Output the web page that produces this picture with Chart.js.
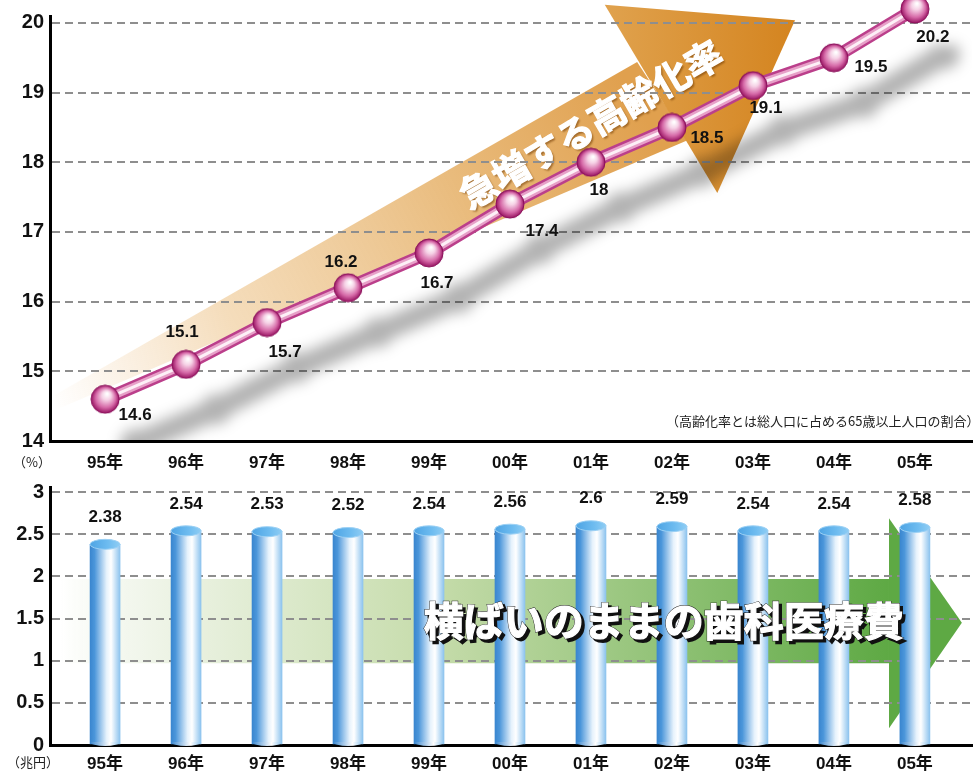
<!DOCTYPE html>
<html lang="ja">
<head>
<meta charset="utf-8">
<title>高齢化率と歯科医療費の推移</title>
<script src="https://cdn.jsdelivr.net/npm/chart.js@4.4.1/dist/chart.umd.min.js"></script>
<style>
  html, body { margin: 0; padding: 0; background: #fff; }
  #wrap { position: relative; width: 973px; height: 771px; overflow: hidden; }
  .box { position: absolute; left: 0; width: 973px; }
  #top-box { top: 0; height: 475px; }
  #bottom-box { top: 475px; height: 296px; }
</style>
</head>
<body>
<div id="wrap">
  <div class="box" id="top-box"><canvas id="aging" width="973" height="475"></canvas></div>
  <div class="box" id="bottom-box"><canvas id="dental" width="973" height="296"></canvas></div>
</div>
<script>
// years shown on both x axes
const years = ["95年", "96年", "97年", "98年", "99年", "00年", "01年", "02年", "03年", "04年", "05年"];
// 高齢化率 (%)
const agingRate = [14.6, 15.1, 15.7, 16.2, 16.7, 17.4, 18, 18.5, 19.1, 19.5, 20.2];
// 歯科医療費 (兆円)
const dentalCost = [2.38, 2.54, 2.53, 2.52, 2.54, 2.56, 2.6, 2.59, 2.54, 2.54, 2.58];
const rateTicks = [14, 15, 16, 17, 18, 19, 20];
const costTicks = [0, 0.5, 1, 1.5, 2, 2.5, 3];

// where each rate label sits relative to its point (dx, dy)
const rateLabelOffset = [[30, 16], [-4, -32], [18, 30], [-7, -25], [8, 30], [32, 27], [8, 28], [35, 11], [13, 23], [37, 10], [18, 28]];

const latin = "'Liberation Sans', 'Noto Sans CJK JP', sans-serif";
const cjk = "'Noto Sans CJK JP', sans-serif";
const gridColor = "#8e8e8e";
const barWidth = 30;

// shared horizontal scale: one unit per year, axis starts a bit left of 95年
const xMin = -0.68;
const xMax = 10.705;

function makeSphere(r) {
  const c = document.createElement("canvas");
  c.width = c.height = r * 2 + 2;
  const g = c.getContext("2d");
  const cx = r + 1, cy = r + 1;
  const grad = g.createRadialGradient(cx + r * 0.15, cy - r * 0.4, r * 0.05, cx, cy, r);
  grad.addColorStop(0, "#ffffff");
  grad.addColorStop(0.3, "#f6d2e6");
  grad.addColorStop(0.7, "#d66aa8");
  grad.addColorStop(1, "#981462");
  g.fillStyle = grad;
  g.beginPath();
  g.arc(cx, cy, r, 0, Math.PI * 2);
  g.fill();
  g.strokeStyle = "#8a0f5a";
  g.lineWidth = 1;
  g.stroke();
  return c;
}
const sphere = makeSphere(14);

function pt(chart, i, v) {
  return [chart.scales.x.getPixelForValue(i), chart.scales.y.getPixelForValue(v)];
}

function poly(ctx, pts) {
  ctx.beginPath();
  pts.forEach((p, k) => k ? ctx.lineTo(p[0], p[1]) : ctx.moveTo(p[0], p[1]));
  ctx.closePath();
}

// keep the plot area exactly where the layout puts it
function noEdgePadding(s) {
  s.paddingLeft = 0;
  s.paddingRight = 0;
  s.paddingTop = 0;
  s.paddingBottom = 0;
}

// big orange arrow behind the line, in axis units
const orangeHead = [[6.17, 20.26], [8.52, 20.04], [7.56, 17.56]];
const orangeShaft = [[6.57, 19.44], [7.2, 18.32], [-0.62, 14.44], [-0.62, 14.66]];

const orangeArrow = {
  id: "orangeArrow",
  beforeDraw(chart) {
    const ctx = chart.ctx;
    ctx.save();
    const shaft = orangeShaft.map(p => pt(chart, p[0], p[1]));
    const g1 = ctx.createLinearGradient(shaft[2][0], shaft[2][1], shaft[0][0], shaft[0][1] + 40);
    g1.addColorStop(0, "rgba(244,214,176,0)");
    g1.addColorStop(0.3, "rgba(242,212,170,0.8)");
    g1.addColorStop(0.7, "#e9bb7c");
    g1.addColorStop(1, "#e0a04e");
    ctx.fillStyle = g1;
    poly(ctx, shaft);
    ctx.fill();

    const head = orangeHead.map(p => pt(chart, p[0], p[1]));
    const g2 = ctx.createLinearGradient(head[0][0], 0, head[1][0], 0);
    g2.addColorStop(0, "#e0a24e");
    g2.addColorStop(1, "#d4841f");
    ctx.fillStyle = g2;
    poly(ctx, head);
    ctx.fill();

    // slanted caption
    const c = pt(chart, 6.0, 18.55);
    ctx.translate(c[0], c[1]);
    ctx.rotate(-30 * Math.PI / 180);
    ctx.font = "bold 37px " + cjk;
    ctx.textAlign = "center";
    ctx.textBaseline = "middle";
    ctx.shadowColor = "rgba(110,55,0,0.55)";
    ctx.shadowOffsetX = 2;
    ctx.shadowOffsetY = 2;
    ctx.shadowBlur = 2;
    ctx.fillStyle = "#ffffff";
    ctx.fillText("急増する高齢化率", 0, 0);
    ctx.shadowColor = "rgba(0,0,0,0)";
    ctx.strokeStyle = "#ffffff";
    ctx.lineWidth = 1.2;
    ctx.strokeText("急増する高齢化率", 0, 0);
    ctx.restore();
  }
};

// soft grey shadow cast by the tube and its beads
const lineShadow = {
  id: "lineShadow",
  beforeDatasetsDraw(chart) {
    const ctx = chart.ctx;
    const a = chart.chartArea;
    const pts = chart.getDatasetMeta(0).data;
    const off = document.createElement("canvas");
    off.width = chart.width;
    off.height = chart.height;
    const o = off.getContext("2d");
    o.strokeStyle = o.fillStyle = "#000";
    o.lineWidth = 22;
    o.lineJoin = "round";
    o.lineCap = "round";
    o.beginPath();
    pts.forEach((p, k) => k ? o.lineTo(p.x, p.y) : o.moveTo(p.x, p.y));
    o.stroke();
    pts.forEach(p => {
      o.beginPath();
      o.arc(p.x, p.y, 15, 0, Math.PI * 2);
      o.fill();
    });
    ctx.save();
    ctx.beginPath();
    ctx.rect(a.left, 0, a.right - a.left, a.bottom);
    ctx.clip();
    ctx.filter = "blur(7px)";
    ctx.globalAlpha = 0.3;
    ctx.drawImage(off, 30, 45);
    ctx.restore();
  }
};

const rateLabels = {
  id: "rateLabels",
  afterDatasetsDraw(chart) {
    const ctx = chart.ctx;
    const meta = chart.getDatasetMeta(0);
    ctx.save();
    ctx.font = "bold 17px " + latin;
    ctx.fillStyle = "#111";
    ctx.textAlign = "center";
    ctx.textBaseline = "middle";
    meta.data.forEach((p, i) => {
      const o = rateLabelOffset[i];
      ctx.fillText(String(agingRate[i]), p.x + o[0], p.y + o[1]);
    });
    ctx.font = "13px " + cjk;
    ctx.fillStyle = "#222";
    ctx.textAlign = "left";
    ctx.fillText("（高齢化率とは総人口に占める65歳以上人口の割合）", 666, chart.chartArea.bottom - 20);
    ctx.textAlign = "center";
    ctx.fillText("（%）", 32, chart.chartArea.bottom + 21);
    ctx.restore();
  }
};

const tubeData = agingRate.map((v, i) => ({ x: i, y: v }));
const lineClip = { left: 0, top: false, right: false, bottom: 0 };

new Chart(document.getElementById("aging"), {
  type: "line",
  data: {
    datasets: [
      { data: tubeData, showLine: false, pointStyle: sphere, pointRadius: 14, clip: lineClip },
      { data: tubeData, borderColor: "#fdf0f7", borderWidth: 3, pointRadius: 0, clip: lineClip },
      { data: tubeData, borderColor: "#e7a0c8", borderWidth: 8, pointRadius: 0, clip: lineClip },
      { data: tubeData, borderColor: "#bb3f8b", borderWidth: 13, pointRadius: 0, clip: lineClip }
    ]
  },
  options: {
    responsive: false,
    animation: false,
    layout: { autoPadding: false, padding: { top: 16, right: 1, left: 0, bottom: 0 } },
    plugins: { legend: { display: false }, tooltip: { enabled: false } },
    elements: { line: { tension: 0, fill: false, borderCapStyle: "round", borderJoinStyle: "round" } },
    scales: {
      x: {
        type: "linear",
        min: xMin,
        max: xMax,
        offset: false,
        afterBuildTicks: s => { s.ticks = years.map((_, i) => ({ value: i })); },
        afterFit: s => { s.height = 34; noEdgePadding(s); },
        grid: { display: false },
        border: { color: "#000", width: 3 },
        ticks: {
          autoSkip: false,
          maxRotation: 0,
          padding: 4,
          color: "#111",
          font: { size: 17, weight: "bold", family: latin },
          callback: v => years[v]
        }
      },
      y: {
        min: 14,
        max: 20.1,
        afterBuildTicks: s => { s.ticks = rateTicks.map(v => ({ value: v })); },
        afterFit: s => { s.width = 50; noEdgePadding(s); },
        grid: {
          color: c => c.tick && c.tick.value === 14 ? "rgba(0,0,0,0)" : gridColor,
          lineWidth: 2,
          drawTicks: false
        },
        border: { color: "#000", width: 3, dash: [8, 5] },
        ticks: {
          padding: 6,
          color: "#111",
          font: { size: 20, weight: "bold", family: latin },
          callback: v => String(v)
        }
      }
    }
  },
  plugins: [orangeArrow, lineShadow, rateLabels]
});

// green arrow behind the bars, in axis units
const greenShaft = [[-0.55, 1.97], [9.68, 1.97], [9.68, 0.97], [-0.55, 0.97]];
const greenHead = [[9.68, 2.69], [10.58, 1.45], [9.68, 0.2]];

const greenArrow = {
  id: "greenArrow",
  beforeDraw(chart) {
    const ctx = chart.ctx;
    ctx.save();
    const shaft = greenShaft.map(p => pt(chart, p[0], p[1]));
    const g = ctx.createLinearGradient(shaft[0][0], 0, shaft[1][0], 0);
    g.addColorStop(0, "rgba(240,246,232,0)");
    g.addColorStop(0.08, "#f3f7ee");
    g.addColorStop(0.45, "#c6dcab");
    g.addColorStop(1, "#5ea944");
    ctx.fillStyle = g;
    poly(ctx, shaft);
    ctx.fill();
    ctx.fillStyle = "#5ea944";
    poly(ctx, greenHead.map(p => pt(chart, p[0], p[1])));
    ctx.fill();
    ctx.restore();
  }
};

const cylinderTops = {
  id: "cylinderTops",
  afterDatasetsDraw(chart) {
    const ctx = chart.ctx;
    const meta = chart.getDatasetMeta(0);
    ctx.save();
    meta.data.forEach((bar, i) => {
      const { x, y, base } = bar.getProps(["x", "y", "base"], true);
      const rx = barWidth / 2;
      // rounded foot
      const gf = ctx.createLinearGradient(x - rx, 0, x + rx, 0);
      gf.addColorStop(0, "#3b88d0");
      gf.addColorStop(0.65, "#ffffff");
      gf.addColorStop(1, "#8dc4ee");
      ctx.fillStyle = gf;
      ctx.beginPath();
      ctx.ellipse(x, base - 2, rx, 4, 0, 0, Math.PI);
      ctx.fill();
      // lid
      const gt = ctx.createLinearGradient(x - rx, 0, x + rx, 0);
      gt.addColorStop(0, "#4ea4e4");
      gt.addColorStop(0.6, "#6ebcf0");
      gt.addColorStop(1, "#8fcdf4");
      ctx.fillStyle = gt;
      ctx.beginPath();
      ctx.ellipse(x, y, rx, 5, 0, 0, Math.PI * 2);
      ctx.fill();
      ctx.strokeStyle = "#9bd0f4";
      ctx.lineWidth = 1;
      ctx.stroke();

      ctx.font = "bold 17px " + latin;
      ctx.fillStyle = "#111";
      ctx.textAlign = "center";
      ctx.textBaseline = "middle";
      ctx.fillText(String(dentalCost[i]), x, y - 27);
    });

    // caption on the arrow
    const c = pt(chart, 6.9, 1.47);
    const caption = "横ばいのままの歯科医療費";
    ctx.font = "bold 40px " + cjk;
    ctx.textAlign = "center";
    ctx.textBaseline = "middle";
    ctx.fillStyle = "#111";
    ctx.strokeStyle = "#111";
    ctx.lineWidth = 2;
    ctx.fillText(caption, c[0] + 3, c[1] + 3);
    ctx.strokeText(caption, c[0] + 3, c[1] + 3);
    ctx.strokeText(caption, c[0], c[1]);
    ctx.fillStyle = "#ffffff";
    ctx.fillText(caption, c[0], c[1]);
    ctx.strokeStyle = "#ffffff";
    ctx.lineWidth = 1.2;
    ctx.strokeText(caption, c[0], c[1]);

    ctx.font = "13px " + cjk;
    ctx.fillStyle = "#222";
    ctx.fillText("（兆円）", 33, chart.chartArea.bottom + 17);
    ctx.restore();
  }
};

new Chart(document.getElementById("dental"), {
  type: "bar",
  data: {
    datasets: [{
      data: dentalCost.map((v, i) => ({ x: i, y: v })),
      barThickness: barWidth,
      borderWidth: 0,
      backgroundColor: c => {
        const chart = c.chart;
        if (!chart.chartArea || !chart.scales.x) return "#5aa6e0";
        const x = chart.scales.x.getPixelForValue(c.dataIndex);
        const g = chart.ctx.createLinearGradient(x - barWidth / 2, 0, x + barWidth / 2, 0);
        g.addColorStop(0, "#3a86cf");
        g.addColorStop(0.15, "#4b96da");
        g.addColorStop(0.55, "#e6f2fc");
        g.addColorStop(0.7, "#ffffff");
        g.addColorStop(1, "#8cc3ee");
        return g;
      }
    }]
  },
  options: {
    responsive: false,
    animation: false,
    layout: { padding: { top: 12, right: 1, left: 0, bottom: 0 } },
    plugins: { legend: { display: false }, tooltip: { enabled: false } },
    scales: {
      x: {
        type: "linear",
        min: xMin,
        max: xMax,
        offset: false,
        afterBuildTicks: s => { s.ticks = years.map((_, i) => ({ value: i })); },
        afterFit: s => { s.height = 26; noEdgePadding(s); },
        grid: { display: false, offset: false },
        border: { color: "#000", width: 3 },
        ticks: {
          autoSkip: false,
          maxRotation: 0,
          padding: 1,
          color: "#111",
          font: { size: 17, weight: "bold", family: latin },
          callback: v => years[v]
        }
      },
      y: {
        min: 0,
        max: 3.06,
        afterBuildTicks: s => { s.ticks = costTicks.map(v => ({ value: v })); },
        afterFit: s => { s.width = 50; noEdgePadding(s); },
        grid: {
          color: c => c.tick && c.tick.value === 0 ? "rgba(0,0,0,0)" : gridColor,
          lineWidth: 2,
          drawTicks: false
        },
        border: { color: "#000", width: 3, dash: [8, 5] },
        ticks: {
          padding: 6,
          color: "#111",
          font: { size: 20, weight: "bold", family: latin },
          callback: v => String(v)
        }
      }
    }
  },
  plugins: [greenArrow, cylinderTops]
});
</script>
</body>
</html>
